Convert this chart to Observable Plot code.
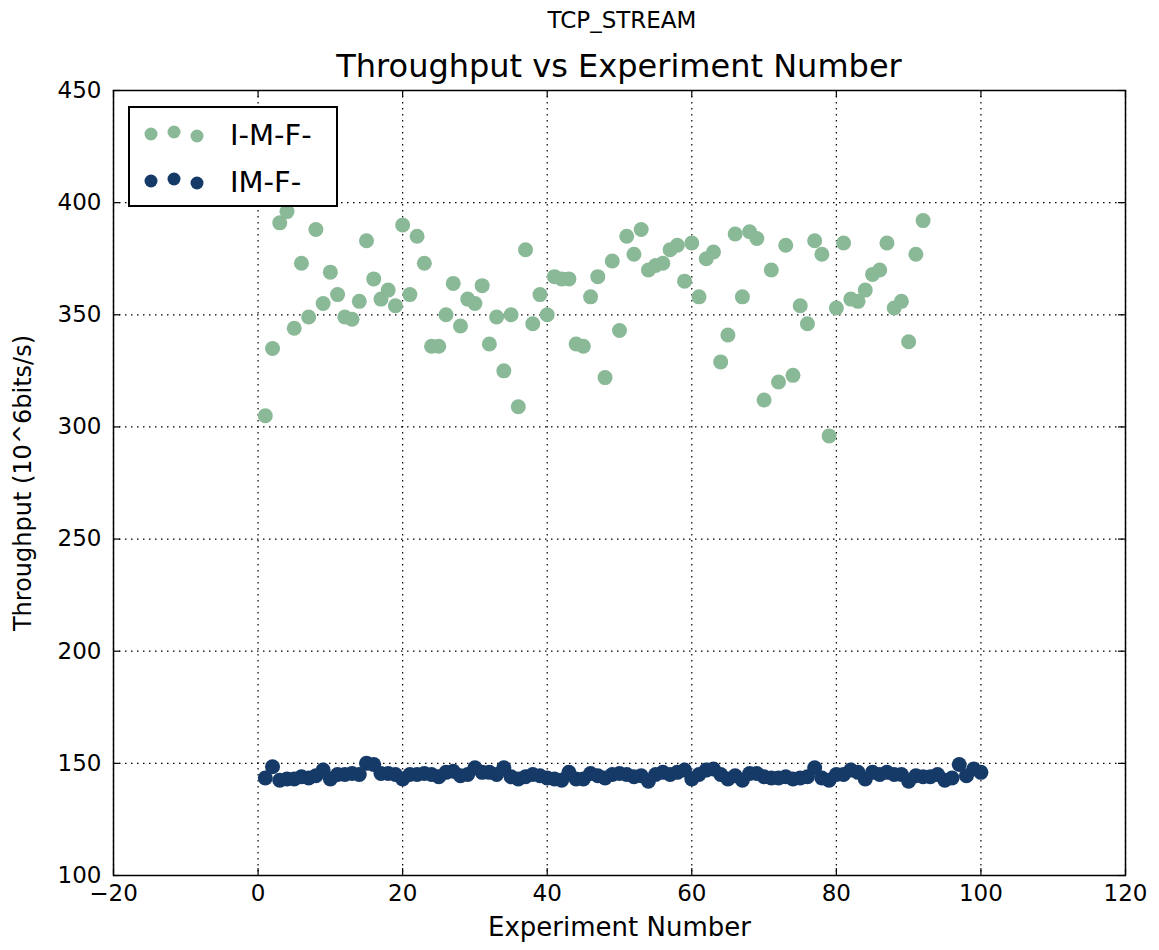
<!DOCTYPE html>
<html>
<head>
<meta charset="utf-8">
<script src="https://cdn.jsdelivr.net/npm/d3@7"></script>
<script src="https://cdn.jsdelivr.net/npm/@observablehq/plot@0.6"></script>
<style>
  body { margin: 0; background: #fff; font-family: "DejaVu Sans", sans-serif; }
  #wrap { position: relative; width: 1159px; height: 950px; }
  .t { position: absolute; white-space: nowrap; color: #000; transform: translateX(-50%); }
  #legend { position: absolute; left: 128px; top: 106px; }
</style>
</head>
<body>
<div id="wrap">
  <div class="t" id="sup" style="left:622px; top:7px; font-size:23px;">TCP_STREAM</div>
  <div class="t" id="ttl" style="left:619px; top:47px; font-size:32px;">Throughput vs Experiment Number</div>
</div>
<script>
const seriesNames = ["I-M-F-", "IM-F-"];
const seriesColors = ["#8ab998", "#163a68"];

const imfValues = [305, 335, 391, 396, 344, 373, 349, 388, 355, 369,
  359, 349, 348, 356, 383, 366, 357, 361, 354, 390,
  359, 385, 373, 336, 336, 350, 364, 345, 357, 355,
  363, 337, 349, 325, 350, 309, 379, 346, 359, 350,
  367, 366, 366, 337, 336, 358, 367, 322, 374, 343,
  385, 377, 388, 370, 372, 373, 379, 381, 365, 382,
  358, 375, 378, 329, 341, 386, 358, 387, 384, 312,
  370, 320, 381, 323, 354, 346, 383, 377, 296, 353,
  382, 357, 356, 361, 368, 370, 382, 353, 356, 338,
  377, 392];

const imfBlueValues = [143.5, 148.5, 142.5, 143, 143, 144, 143.5, 144.5, 147, 143,
  145, 145, 145.5, 145, 150, 149.5, 145.5, 145.5, 145, 143,
  145, 145, 145.5, 145, 144, 146, 146.5, 144.5, 145, 148,
  146, 146, 145, 148, 144, 143, 144, 145, 144.5, 143.5,
  143, 142.5, 146, 143, 143, 145.5, 144.5, 143.5, 145, 145.5,
  145, 144, 144.5, 142, 145, 146, 145, 146, 147, 143,
  145, 147, 147.5, 145, 143, 144.5, 142.5, 145.5, 145.5, 144,
  143.5, 143.5, 144, 143, 143.5, 144, 148, 143.5, 142.5, 145,
  145, 147, 146, 143, 146, 145, 146, 145, 145, 142,
  144.5, 144, 144, 145, 142.5, 143.5, 149.5, 144.5, 147.5, 146];

const xTicks = [-20, 0, 20, 40, 60, 80, 100, 120];
const yTicks = [100, 150, 200, 250, 300, 350, 400, 450];

const green = imfValues.map((v, i) => ({x: i + 1, y: v}));
const blue = imfBlueValues.map((v, i) => ({x: i + 1, y: v}));

const W = 1159, H = 950, mt = 90, mb = 75, ml = 113, mr = 34;
const innerH = H - mt - mb, innerW = W - ml - mr;
const tick = 7;
const grid = {stroke: "#000", strokeOpacity: 1, strokeWidth: 1.2, strokeDasharray: "1.5,4.5"};

const chart = Plot.plot({
  width: W, height: H,
  marginTop: mt, marginBottom: mb, marginLeft: ml, marginRight: mr,
  style: {fontFamily: "DejaVu Sans, sans-serif", background: "transparent"},
  x: {domain: [-20, 120], ticks: xTicks},
  y: {domain: [100, 450], ticks: yTicks},
  marks: [
    Plot.gridX(xTicks, grid),
    Plot.gridY(yTicks, grid),
    Plot.dot(green, {x: "x", y: "y", r: 7.5, fill: seriesColors[0], stroke: "none"}),
    Plot.dot(blue, {x: "x", y: "y", r: 7.5, fill: seriesColors[1], stroke: "none"}),
    Plot.tickX(xTicks, {x: d => d, insetTop: innerH - tick, stroke: "#000", strokeWidth: 1.2}),
    Plot.tickX(xTicks, {x: d => d, insetBottom: innerH - tick, stroke: "#000", strokeWidth: 1.2}),
    Plot.tickY(yTicks, {y: d => d, insetRight: innerW - tick, stroke: "#000", strokeWidth: 1.2}),
    Plot.tickY(yTicks, {y: d => d, insetLeft: innerW - tick, stroke: "#000", strokeWidth: 1.2}),
    Plot.axisX(xTicks, {tickSize: 0, tickPadding: 9, fontSize: 23, tickFormat: d => d < 0 ? "\u2212" + Math.abs(d) : String(d),
      label: "Experiment Number", labelAnchor: "center", labelArrow: "none", labelOffset: 60, color: "#000"}),
    Plot.axisY(yTicks, {tickSize: 0, tickPadding: 12, fontSize: 23,
      label: "Throughput (10^6bits/s)", labelAnchor: "center", labelArrow: "none", labelOffset: 100, color: "#000"}),
    Plot.frame({stroke: "#000", strokeWidth: 1.5})
  ]
});
chart.style.position = "absolute";
chart.style.left = "0px";
chart.style.top = "0px";
d3.select(chart).selectAll("[aria-label='x-axis label'] text").style("font-size", "26px");
d3.select(chart).selectAll("[aria-label='y-axis label'] text").style("font-size", "24px");
document.getElementById("wrap").prepend(chart);

// legend
const leg = d3.select("#wrap").append("div").attr("id", "legend");
const lsvg = leg.append("svg").attr("width", 211).attr("height", 102);
lsvg.append("rect").attr("x", 1).attr("y", 1).attr("width", 208).attr("height", 99)
  .attr("fill", "#fff").attr("stroke", "#000").attr("stroke-width", 2);
const offs = [0, -2, 2];
seriesNames.forEach((name, i) => {
  const cy = 28 + i * 47;
  offs.forEach((o, j) => {
    lsvg.append("circle").attr("cx", 23 + j * 23).attr("cy", cy + o).attr("r", 6.5).attr("fill", seriesColors[i]);
  });
  lsvg.append("text").attr("x", 102).attr("y", cy + 11).attr("font-size", 29)
    .attr("font-family", "DejaVu Sans, sans-serif").attr("fill", "#000").text(name);
});
</script>
</body>
</html>
